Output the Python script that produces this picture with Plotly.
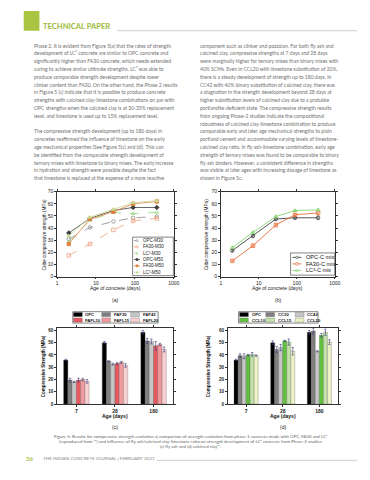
import plotly.graph_objects as go

W, H = 370, 480

# ---------------- data ----------------
ages = [2, 7, 28, 90, 365]
opc_m30 = [31, 40.5, 45.5, 48.5, 49.5]
fa30_m30 = [17.5, 27, 38.5, 46, 48]
lc3_m30 = [28.5, 46.5, 53, 52, 53]
opc_m50 = [36, 48, 54.5, 57, 57]
fa30_m50 = [27, 47.5, 53.5, 60, 62]
lc3_m50 = [33.5, 49, 55.5, 61, 62.5]

opc_c = [21.5, 33.5, 47.5, 48.5, 48.5]
fa30_c = [13, 25.5, 42.5, 51, 52.5]
lc3_c = [24, 36.5, 49.5, 54.5, 55]
opc_c_err = [0.8, 1, 1, 1, 1.5]
fa30_c_err = [0.5, 0.8, 0.8, 1, 1]
lc3_c_err = [0.8, 1, 1, 0.8, 0.8]

bar_ages = ["7", "28", "180"]
fa_names = ["OPC", "FAF30", "FAF42", "FAFL10", "FAFL15", "FAFL20"]
fa_vals = [
    [36, 50, 58.5],
    [19.5, 35, 51.5],
    [18, 32.5, 51],
    [19.5, 33, 47.5],
    [20, 34, 48.5],
    [18.5, 31.5, 44.5],
]
fa_errs = [
    [0.5, 1, 1.5],
    [1.5, 0.3, 2],
    [0.5, 0.8, 2],
    [1.5, 0.8, 3.5],
    [1, 0.8, 1],
    [1.5, 1.5, 2],
]
cc_names = ["OPC", "CC30", "CC42", "CCL10", "CCL15", "CCL20"]
cc_vals = [
    [36, 50, 58.5],
    [39.5, 44.5, 59.5],
    [39, 46, 43],
    [40, 51.5, 56],
    [40.5, 50.5, 58.5],
    [39.5, 43, 50.5],
]
cc_errs = [
    [0.5, 1.5, 1.5],
    [1.5, 2.5, 2.5],
    [2, 2.5, 0.5],
    [0.5, 0.5, 1.5],
    [1.5, 2.5, 2.5],
    [0.5, 3, 2],
]

left_text = [
    "Phase 2. It is evident from Figure 5(a) that the rates of strength",
    "development of LC³ concrete are similar to OPC concrete and",
    "significantly higher than FA30 concrete, which needs extended",
    "curing to achieve similar ultimate strengths. LC³ was able to",
    "produce comparable strength development despite lower",
    "clinker content than FA30. On the other hand, the Phase 2 results",
    "in Figure 5 (c) indicate that it is possible to produce concrete",
    "strengths with calcined clay-limestone combinations on par with",
    "OPC strengths when the calcined clay is at 30-35% replacement",
    "level, and limestone is used up to 15% replacement level.",
    "",
    "The compressive strength development (up to 180 days) in",
    "concretes reaffirmed the influence of limestone on the early",
    "age mechanical properties (See Figure 5(c) and (d)). This can",
    "be identified from the comparable strength development of",
    "ternary mixes with limestone to binary mixes. The early increase",
    "in hydration and strength were possible despite the fact",
    "that limestone is replaced at the expense of a more reactive",
]
right_text = [
    "component such as clinker and pozzolan. For both fly ash and",
    "calcined clay, compressive strengths at 7 days and 28 days",
    "were marginally higher for ternary mixes than binary mixes with",
    "40% SCMs. Even in CCL20 with limestone substitution of 20%,",
    "there is a steady development of strength up to 180 days. In",
    "CC42 with 40% binary substitution of calcined clay, there was",
    "a stagnation in the strength development beyond 28 days at",
    "higher substitution levels of calcined clay due to a probable",
    "portlandite-deficient state. The compressive strength results",
    "from ongoing Phase-2 studies indicate the compositional",
    "robustness of calcined clay-limestone combination to produce",
    "comparable early and later age mechanical strengths to plain",
    "portland cement and accommodate varying levels of limestone-",
    "calcined clay ratio. In fly ash-limestone combination, early age",
    "strength of ternary mixes was found to be comparable to binary",
    "fly ash binders. However, a consistent difference in strengths",
    "was visible at later ages with increasing dosage of limestone as",
    "shown in Figure 5c.",
]
caption = [
    "Figure 5: Results for compressive strength evolution a) comparison of strength evolution from phase-1 concrete made with OPC, FA30 and LC³",
    "(reproduced from ³³) and influence of fly ash/calcined clay-limestone ratio on strength development of LC³ concrete from Phase-2 studies",
    "(c) fly ash and (d) calcined clay³⁴.",
]

# ---------------- helpers ----------------
def px(x):
    return x / W

def py(y):
    return 1 - y / H

CF = "Liberation Sans"
BODY = "Lato"
annotations = []
shapes = []

def text(x, y, s, size=5, color="#666", anchor="left", family=BODY, angle=0, bold=False):
    if bold:
        s = "<b>" + s + "</b>"
    annotations.append(dict(x=px(x), y=py(y), xref="paper", yref="paper", text=s,
                            showarrow=False, xanchor=anchor, yanchor="middle",
                            textangle=angle,
                            font=dict(size=size, color=color, family=family)))

fig = go.Figure()

# top-left line chart
series_a = [
    ("OPC-M30", opc_m30, "#8a8a8a", "dash", "circle-open"),
    ("FA30-M30", fa30_m30, "#f2a07e", "dash", "square-open"),
    ("LC³-M30", lc3_m30, "#98d884", "dash", "triangle-up-open"),
    ("OPC-M50", opc_m50, "#3d3d3d", "solid", "diamond"),
    ("FA30-M50", fa30_m50, "#e0803f", "solid", "square"),
    ("LC³-M50", lc3_m50, "#c9dc98", "solid", "triangle-up"),
]
for name, vals, col, dash, sym in series_a:
    fig.add_trace(go.Scatter(x=ages, y=vals, mode="lines+markers", name=name,
                             line=dict(color=col, width=0.8, dash=dash),
                             marker=dict(symbol=sym, size=3.5, color=col, line=dict(color=col, width=0.8)),
                             xaxis="x", yaxis="y", showlegend=False))

series_b = [
    ("OPC-C mix", opc_c, opc_c_err, "#404040", "circle-open"),
    ("FA30-C mix", fa30_c, fa30_c_err, "#e8703a", "square-open"),
    ("LC³-C mix", lc3_c, lc3_c_err, "#86d46f", "triangle-up-open"),
]
for name, vals, err, col, sym in series_b:
    fig.add_trace(go.Scatter(x=ages, y=vals, mode="lines+markers", name=name,
                             line=dict(color=col, width=0.9),
                             error_y=dict(type="data", array=err, color=col, thickness=0.6, width=1.2),
                             marker=dict(symbol=sym, size=3.5, color=col, line=dict(color=col, width=0.8)),
                             xaxis="x2", yaxis="y2", showlegend=False))

fa_colors = ["#000000", "#7f7f7f", "#c6c6c6", "#e8595f", "#f29a9d", "#f9d0d1"]
cc_colors = ["#000000", "#7f7f7f", "#c6c6c6", "#62c040", "#c2e2a9", "#eef1c6"]
ecol = "#3e3e80"
for name, vals, err, col in zip(fa_names, fa_vals, fa_errs, fa_colors):
    fig.add_trace(go.Bar(x=bar_ages, y=vals, name=name, marker=dict(color=col, line=dict(color="#555", width=0.3)),
                         error_y=dict(type="data", array=err, color=ecol, thickness=0.6, width=1.2),
                         xaxis="x3", yaxis="y3", showlegend=False))
for name, vals, err, col in zip(cc_names, cc_vals, cc_errs, cc_colors):
    fig.add_trace(go.Bar(x=bar_ages, y=vals, name=name, marker=dict(color=col, line=dict(color="#555", width=0.3)),
                         error_y=dict(type="data", array=err, color=ecol, thickness=0.6, width=1.2),
                         xaxis="x4", yaxis="y4", showlegend=False))

# ---------------- axes ----------------
def ax_common(size=5):
    return dict(showline=True, linecolor="#333", linewidth=0.7, mirror="ticks",
                ticks="outside", ticklen=2, tickwidth=0.6, tickcolor="#333",
                showgrid=False, zeroline=False,
                tickfont=dict(size=size, family=CF, color="#222"))

TL = (49, 168)
TR = (216, 332)
TY = (183, 269)
BL = (49, 167)
BR = (223, 335)
BY = (321, 398)

layout_axes = {}
layout_axes["xaxis"] = dict(ax_common(), domain=[px(TL[0]), px(TL[1])], type="log", range=[0, 3],
                            tickvals=[1, 10, 100, 1000], ticktext=["1", "10", "100", "1000"], anchor="y")
layout_axes["yaxis"] = dict(ax_common(), domain=[py(TY[1]), py(TY[0])], range=[0, 70], dtick=10, anchor="x")
layout_axes["xaxis2"] = dict(ax_common(), domain=[px(TR[0]), px(TR[1])], type="log", range=[0, 3],
                             tickvals=[1, 10, 100, 1000], ticktext=["1", "10", "100", "1000"], anchor="y2")
layout_axes["yaxis2"] = dict(ax_common(), domain=[py(TY[1]), py(TY[0])], range=[0, 70], dtick=10, anchor="x2")
bt = ax_common(4.6)
layout_axes["xaxis3"] = dict(ax_common(5), domain=[px(BL[0]), px(BL[1])], type="category",
                             tickprefix="<b>", ticksuffix="</b>", anchor="y3", range=[-0.5, 2.5])
layout_axes["yaxis3"] = dict(bt, domain=[py(BY[1]), py(BY[0])], range=[0, 62], dtick=10,
                             tickprefix="<b>", ticksuffix="</b>", anchor="x3")
layout_axes["xaxis4"] = dict(ax_common(5), domain=[px(BR[0]), px(BR[1])], type="category",
                             tickprefix="<b>", ticksuffix="</b>", anchor="y4", range=[-0.5, 2.5])
layout_axes["yaxis4"] = dict(bt, domain=[py(BY[1]), py(BY[0])], range=[0, 62], dtick=10,
                             tickprefix="<b>", ticksuffix="</b>", anchor="x4")

# ---------------- page text ----------------
shapes.append(dict(type="rect", xref="paper", yref="paper", x0=px(15), x1=px(31), y0=py(20), y1=py(0),
                   fillcolor="#a9c441", line=dict(width=0)))
text(33, 15.5, "TECHNICAL PAPER", size=7.6, color="#9dbb3c", bold=True)
shapes.append(dict(type="line", xref="paper", yref="paper", x0=px(110), x1=px(355), y0=py(20), y1=py(20),
                   line=dict(color="#aaa", width=0.6)))

for i, s in enumerate(left_text):
    if s:
        text(23.5, 35 + i * 7.9, s, size=5, color="#707070")
for i, s in enumerate(right_text):
    text(192.5, 35 + i * 7.9, s, size=5, color="#707070")

text(36, (TY[0] + TY[1]) / 2, "Cube compressive strength (MPa)", size=4.7, color="#222", anchor="center", family=CF, angle=-90)
text(201, (TY[0] + TY[1]) / 2, "Cube compressive strength (MPa)", size=4.7, color="#222", anchor="center", family=CF, angle=-90)
text((TL[0] + TL[1]) / 2, 281, "Age of concrete (days)", size=5, color="#222", anchor="center", family=CF)
text((TR[0] + TR[1]) / 2, 281, "Age of concrete (days)", size=5, color="#222", anchor="center", family=CF)
text((TL[0] + TL[1]) / 2, 292.5, "(a)", size=5, color="#222", anchor="center", family=CF)
text((TR[0] + TR[1]) / 2, 292.5, "(b)", size=5, color="#222", anchor="center", family=CF)

text(35, (BY[0] + BY[1]) / 2, "Compressive Strength (MPa)", size=4.5, color="#111", anchor="center", family=CF, angle=-90, bold=True)
text(203, (BY[0] + BY[1]) / 2, "Compressive Strength (MPa)", size=4.5, color="#111", anchor="center", family=CF, angle=-90, bold=True)
text((BL[0] + BL[1]) / 2, 410, "Age (days)", size=5, color="#111", anchor="center", family=CF, bold=True)
text((BR[0] + BR[1]) / 2, 410, "Age (days)", size=5, color="#111", anchor="center", family=CF, bold=True)
text((BL[0] + BL[1]) / 2, 421, "(c)", size=5, color="#222", anchor="center", family=CF)
text((BR[0] + BR[1]) / 2, 421, "(d)", size=5, color="#222", anchor="center", family=CF)

for i, s in enumerate(caption):
    text(185, 431 + i * 5, s, size=4.4, color="#666", anchor="center")

text(15, 453, "36", size=6, color="#a9c441", bold=True)
text(33, 453, "THE INDIAN CONCRETE JOURNAL | FEBRUARY 2021", size=4.6, color="#888")
shapes.append(dict(type="line", xref="paper", yref="paper", x0=px(151), x1=px(355), y0=py(455), y1=py(455),
                   line=dict(color="#aaa", width=0.6)))

# ---------------- manual legends ----------------
def marker_shape(cx, cy, sym, col, r=1.3):
    filled = not sym.endswith("open")
    fill = col if filled else "white"
    if sym.startswith("circle"):
        shapes.append(dict(type="circle", xref="paper", yref="paper", x0=px(cx - r), x1=px(cx + r),
                           y0=py(cy + r), y1=py(cy - r), fillcolor=fill, line=dict(color=col, width=0.6)))
    elif sym.startswith("square") or sym.startswith("diamond"):
        shapes.append(dict(type="rect", xref="paper", yref="paper", x0=px(cx - r), x1=px(cx + r),
                           y0=py(cy + r), y1=py(cy - r), fillcolor=fill, line=dict(color=col, width=0.6)))
    else:
        path = "M {} {} L {} {} L {} {} Z".format(px(cx - r), py(cy + r), px(cx + r), py(cy + r), px(cx), py(cy - r))
        shapes.append(dict(type="path", xref="paper", yref="paper", path=path, fillcolor=fill,
                           line=dict(color=col, width=0.6)))

def box(x0, y0, x1, y1):
    shapes.append(dict(type="rect", xref="paper", yref="paper", x0=px(x0), x1=px(x1), y0=py(y1), y1=py(y0),
                       fillcolor="white", line=dict(color="#333", width=0.6)))

box(126, 229, 167.5, 268)
for k, (name, vals, col, dash, sym) in enumerate(series_a):
    yy = 232.5 + k * 6.4
    shapes.append(dict(type="line", xref="paper", yref="paper", x0=px(127.5), x1=px(133.5), y0=py(yy), y1=py(yy),
                       line=dict(color=col, width=0.8, dash="dot" if dash == "dash" else "solid")))
    marker_shape(130.5, yy, sym, col, r=1.0)
    text(134.5, yy, name, size=4.5, color="#222", family=CF)

box(287, 245, 332, 267.5)
for k, (name, vals, err, col, sym) in enumerate(series_b):
    yy = 249.5 + k * 6.6
    shapes.append(dict(type="line", xref="paper", yref="paper", x0=px(289), x1=px(298), y0=py(yy), y1=py(yy),
                       line=dict(color=col, width=0.9)))
    marker_shape(293.5, yy, sym, col, r=1.2)
    text(300.5, yy, name, size=5.6, color="#111", family=CF)

def bar_legend(x0, x1, cols_x, names, colors):
    box(x0, 304.5, x1, 316)
    for k, (name, col) in enumerate(zip(names, colors)):
        r, c = divmod(k, 3)
        yy = 307.4 + r * 5.6
        sx = cols_x[c]
        shapes.append(dict(type="rect", xref="paper", yref="paper", x0=px(sx), x1=px(sx + 9),
                           y0=py(yy + 2.1), y1=py(yy - 2.1), fillcolor=col, line=dict(color="#555", width=0.3)))
        text(sx + 10.2, yy, name, size=4.2, color="#111", family=CF, bold=True)

bar_legend(65, 152, [65.7, 94.5, 124], fa_names, fa_colors)
bar_legend(234, 315, [235, 261.7, 291.7], cc_names, cc_colors)

fig.update_layout(
    width=W, height=H, autosize=False,
    margin=dict(l=0, r=0, t=0, b=0),
    paper_bgcolor="white", plot_bgcolor="white",
    barmode="group", bargap=0.34, bargroupgap=0,
    showlegend=False,
    annotations=annotations, shapes=shapes,
    **layout_axes,
)

fig.write_html("out.html", config={"displayModeBar": False})
